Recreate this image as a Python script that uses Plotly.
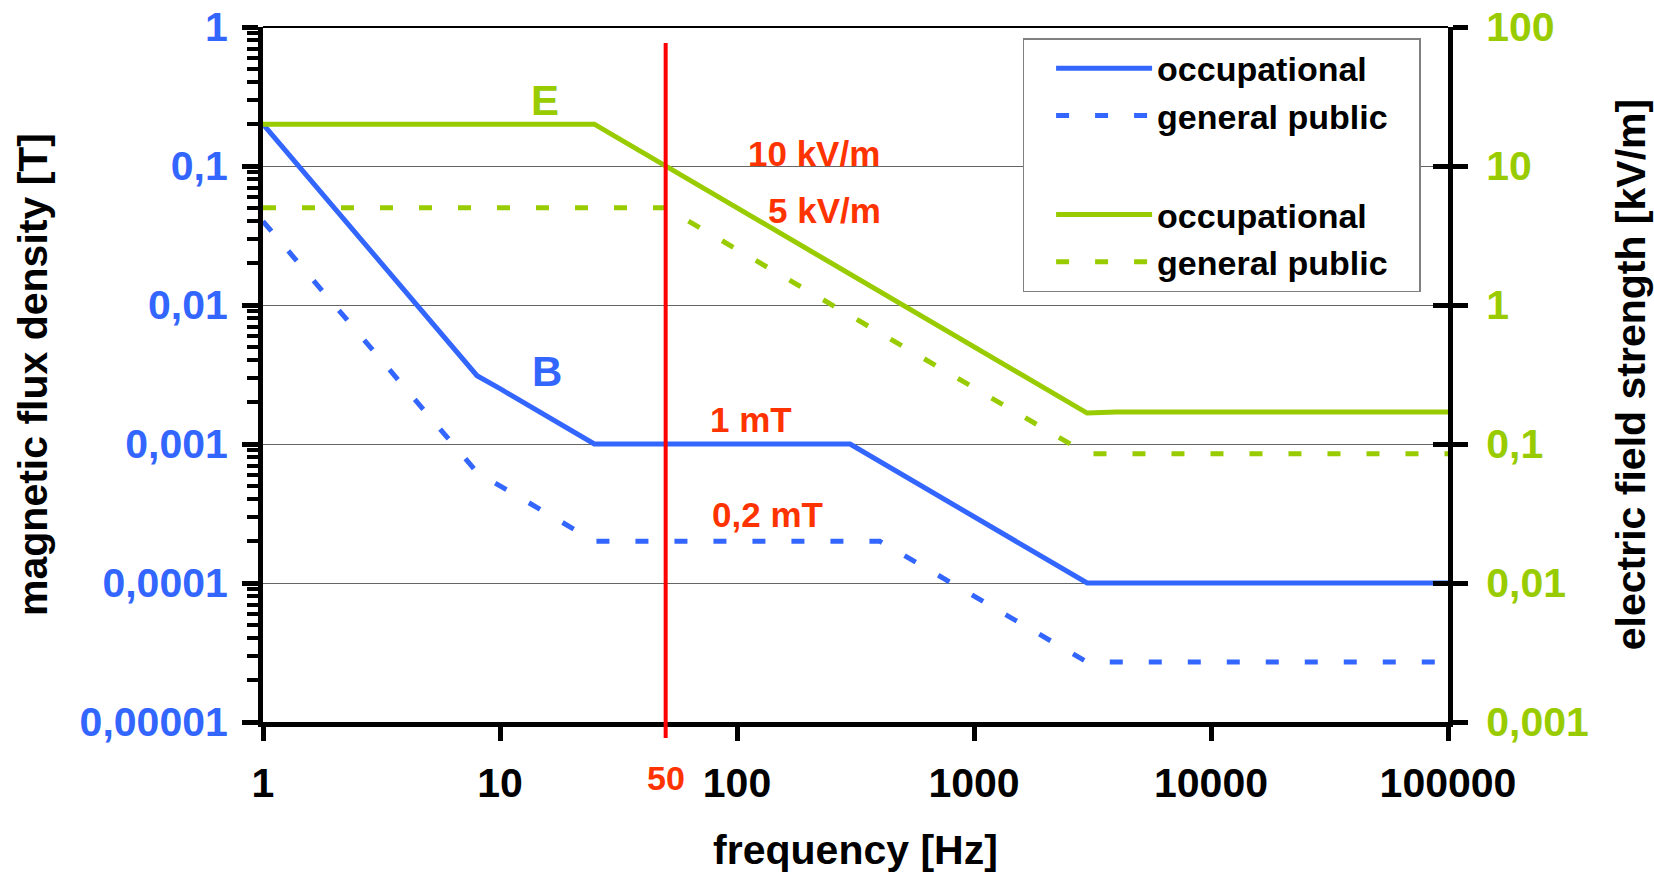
import math
import plotly.graph_objects as go

# ---------------- data ----------------
freq_B_occ = [1, 8, 10, 25, 300, 3000, 100000]
B_occ = [0.2, 0.0031, 0.0025, 0.001, 0.001, 0.0001, 0.0001]

freq_B_pub = [1, 8, 25, 400, 3000, 100000]
B_pub = [0.04, 0.000625, 0.0002, 0.0002, 0.000027, 0.000027]

freq_E_occ = [1, 25, 3000, 4000, 100000]
E_occ = [20, 20, 0.167, 0.17, 0.17]

freq_E_pub = [1, 50, 3000, 100000]
E_pub = [5, 5, 0.085, 0.085]

mains_freq = 50

x_ticks = [1, 10, 100, 1000, 10000, 100000]
x_ticklabels = ["1", "10", "100", "1000", "10000", "100000"]
b_ticks = [1e-5, 1e-4, 1e-3, 1e-2, 1e-1, 1]
b_ticklabels = ["0,00001", "0,0001", "0,001", "0,01", "0,1", "1"]
e_ticks = [0.001, 0.01, 0.1, 1, 10, 100]
e_ticklabels = ["0,001", "0,01", "0,1", "1", "10", "100"]

# text labels: (text, freq, value, axis, colour, size)
labels = [
    ("E", 15.5, 29.8, "y2", "#99CC00", 42),
    ("B", 15.8, 0.00335, "y", "#3366FF", 42),
    ("10 kV/m", 211, 12.4, "y2", "#FF3300", 35),
    ("5 kV/m", 233, 4.8, "y2", "#FF3300", 35),
    ("1 mT", 115, 0.00149, "y", "#FF3300", 35),
    ("0,2 mT", 134, 0.000313, "y", "#FF3300", 35),
]

BLUE = "#3366FF"
GREEN = "#99CC00"
RED_LINE = "#FF0000"
RED_TEXT = "#FF3300"
FONT = "Liberation Sans, Arial, sans-serif"
DASH = "13px,26px"
PAD = "\u00a0\u2002"  # trailing padding inside the legend box

fig = go.Figure()

fig.add_trace(go.Scatter(x=freq_B_occ, y=B_occ, name="occupational", mode="lines",
                         line=dict(color=BLUE, width=5), legendgroup="B", yaxis="y"))
fig.add_trace(go.Scatter(x=freq_B_pub, y=B_pub, name="general public" + PAD, mode="lines",
                         line=dict(color=BLUE, width=5, dash=DASH), legendgroup="B", yaxis="y"))
fig.add_trace(go.Scatter(x=freq_E_occ, y=E_occ, name="occupational", mode="lines",
                         line=dict(color=GREEN, width=5), legendgroup="E", yaxis="y2"))
fig.add_trace(go.Scatter(x=freq_E_pub, y=E_pub, name="general public" + PAD, mode="lines",
                         line=dict(color=GREEN, width=5, dash=DASH), legendgroup="E", yaxis="y2"))
# helper trace for the inner tick marks of the right axis
fig.add_trace(go.Scatter(x=[1], y=[1], mode="lines", showlegend=False, hoverinfo="skip",
                         line=dict(color="rgba(0,0,0,0)"), yaxis="y3"))

# 50 Hz marker line
fig.add_shape(type="line", xref="x", yref="paper", x0=mains_freq, x1=mains_freq,
              y0=-0.023, y1=0.977, line=dict(color=RED_LINE, width=4), layer="above")
# thin top frame line
fig.add_shape(type="line", xref="paper", yref="paper", x0=0, x1=1, y0=1, y1=1,
              line=dict(color="black", width=2))

for text, fx, val, ax, col, size in labels:
    fig.add_annotation(text=text, x=math.log10(fx), y=math.log10(val), xref="x", yref=ax,
                       showarrow=False, xanchor="center", yanchor="middle",
                       font=dict(family=FONT, size=size, color=col, weight="bold"))

fig.add_annotation(text=str(mains_freq), x=math.log10(mains_freq), y=-0.081, xref="x", yref="paper",
                   showarrow=False, xanchor="center", yanchor="middle",
                   font=dict(family=FONT, size=34, color=RED_TEXT, weight="bold"))

minor_b = [m * 10 ** e for e in range(-5, 0) for m in range(2, 10)]

fig.update_layout(
    width=1654, height=875,
    margin=dict(l=263, r=206, t=27, b=153, autoexpand=False),
    paper_bgcolor="white", plot_bgcolor="white",
    font=dict(family=FONT, color="black"),
    showlegend=True,
    legend=dict(x=0.641, y=0.984, xanchor="left", yanchor="top",
                bgcolor="white", bordercolor="#808080", borderwidth=1.5,
                font=dict(family=FONT, size=34, color="black", weight="bold"),
                itemwidth=96, tracegroupgap=52, indentation=27),
    xaxis=dict(type="log", range=[0, 5], tickmode="array", tickvals=x_ticks, ticktext=x_ticklabels,
               automargin=False, ticklabeloverflow="allow",
               showgrid=False, zeroline=False, showline=True, linecolor="black", linewidth=5,
               ticks="outside", ticklen=14, tickwidth=5, tickcolor="black",
               tickfont=dict(family=FONT, size=41, color="black", weight="bold"),
               ticklabelstandoff=7,
               title=dict(text="frequency [Hz]", standoff=32,
                          font=dict(family=FONT, size=41, color="black", weight="bold"))),
    yaxis=dict(type="log", range=[-5, 0], tickmode="array", tickvals=b_ticks, ticktext=b_ticklabels,
               automargin=False, ticklabeloverflow="allow",
               showgrid=True, gridcolor="#666666", gridwidth=1, zeroline=False,
               showline=True, linecolor="black", linewidth=5,
               ticks="outside", ticklen=16, tickwidth=5, tickcolor="black",
               minor=dict(tickmode="array", tickvals=minor_b, ticks="outside", ticklen=11,
                          tickwidth=4, tickcolor="black", showgrid=False),
               tickfont=dict(family=FONT, size=41, color=BLUE, weight="bold"),
               ticklabelstandoff=6,
               title=dict(text="magnetic flux density [T]", standoff=21,
                          font=dict(family=FONT, size=41, color="black", weight="bold"))),
    yaxis2=dict(type="log", range=[-3, 2], overlaying="y", side="right", anchor="x",
                automargin=False, ticklabeloverflow="allow",
                tickmode="array", tickvals=e_ticks, ticktext=e_ticklabels,
                showgrid=False, zeroline=False, showline=True, linecolor="black", linewidth=5,
                ticks="outside", ticklen=15, tickwidth=5, tickcolor="black",
                tickfont=dict(family=FONT, size=41, color=GREEN, weight="bold"),
                ticklabelstandoff=10,
                title=dict(text="electric field strength [kV/m]", standoff=30,
                           font=dict(family=FONT, size=41, color="black", weight="bold"))),
    yaxis3=dict(type="log", range=[-3, 2], overlaying="y", side="right", anchor="x",
                automargin=False,
                tickmode="array", tickvals=e_ticks, showticklabels=False,
                showgrid=False, zeroline=False, showline=False,
                ticks="inside", ticklen=15, tickwidth=5, tickcolor="black"),
)

fig.write_html("out.html", config={"displayModeBar": False},
               post_script="document.body.style.margin='0';")
